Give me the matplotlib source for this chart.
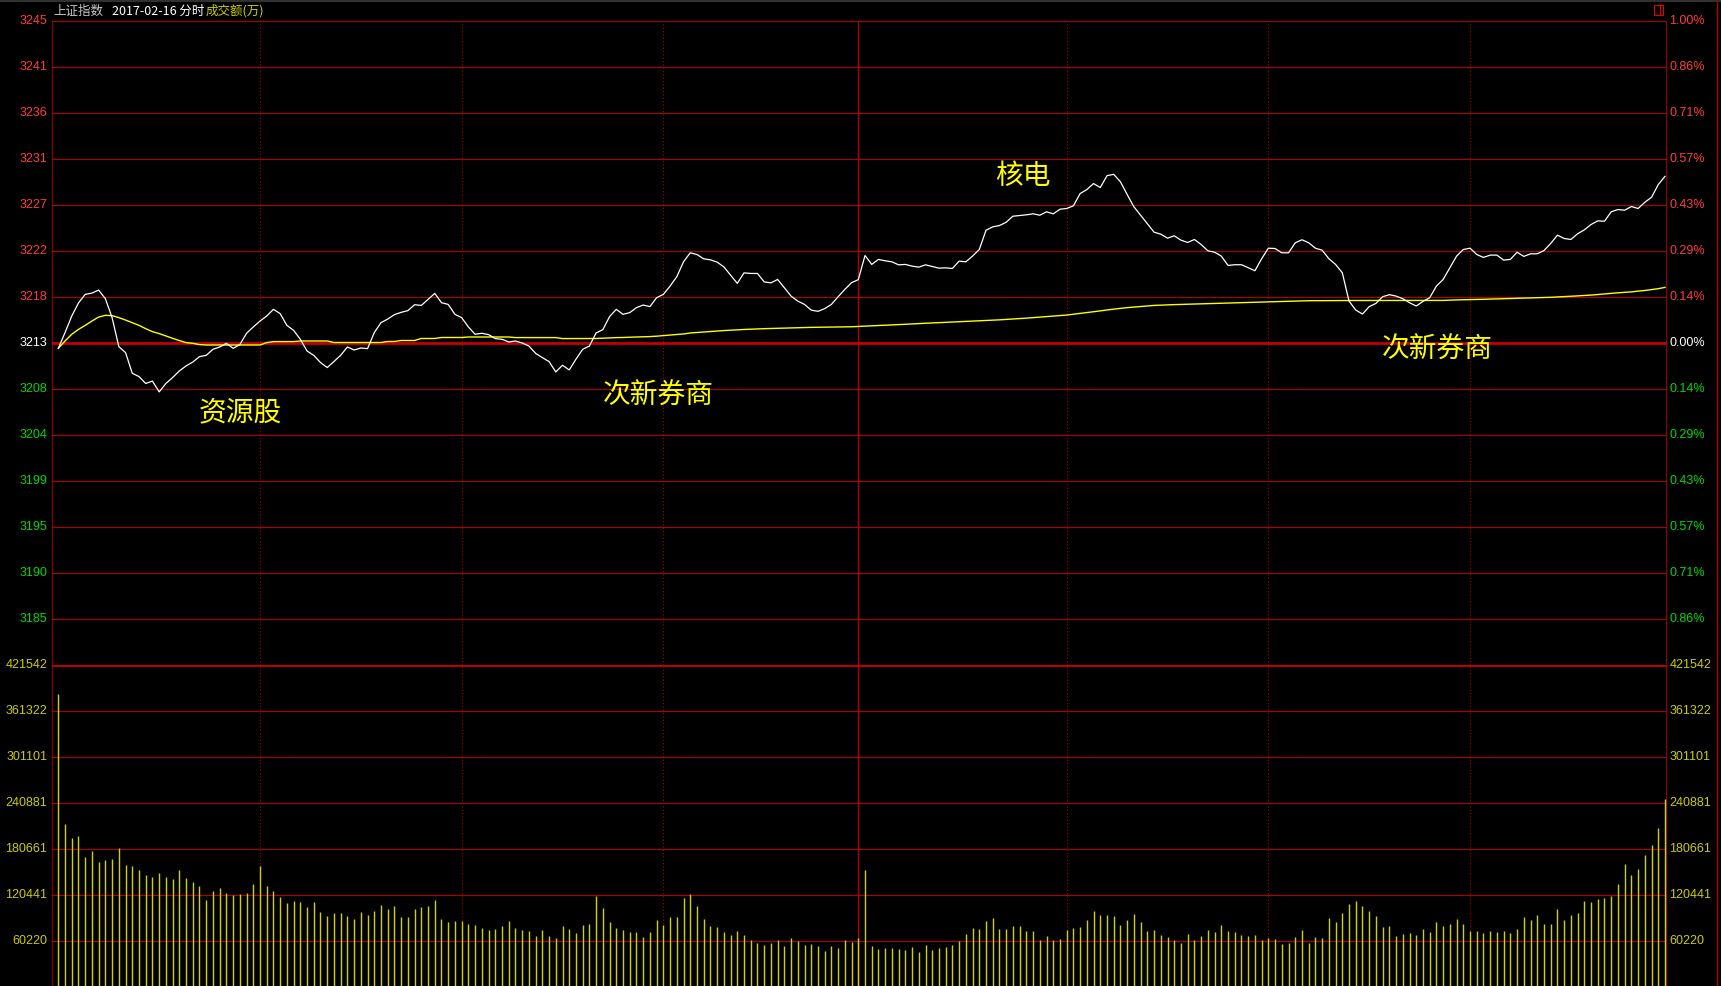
import matplotlib
matplotlib.use('Agg')
import matplotlib.pyplot as plt
from matplotlib.patches import Rectangle
from matplotlib.lines import Line2D

plt.rcParams['font.family'] = ['Noto Sans CJK SC', 'DejaVu Sans']

# ---- data ----
prev_close = 3213.0

price = [
    3212.47, 3214.04, 3215.69, 3217.0, 3217.85, 3217.98, 3218.28, 3217.42, 3215.53, 3212.64,
    3212.04, 3209.98, 3209.65, 3208.96, 3209.2, 3208.12, 3208.96, 3209.55, 3210.21, 3210.71,
    3211.1, 3211.64, 3211.77, 3212.37, 3212.6, 3212.97, 3212.47, 3212.84, 3213.97, 3214.6,
    3215.19, 3215.69, 3216.36, 3215.93, 3214.76, 3214.26, 3213.37, 3212.2, 3211.77, 3211.05,
    3210.55, 3211.15, 3211.77, 3212.6, 3212.3, 3212.5, 3212.44, 3214.04, 3215.03, 3215.39,
    3215.83, 3216.06, 3216.23, 3216.82, 3216.75, 3217.35, 3217.95, 3217.02, 3216.85, 3215.86,
    3215.53, 3214.6, 3213.87, 3213.97, 3213.84, 3213.44, 3213.37, 3213.1, 3213.2, 3213.0,
    3212.7, 3211.97, 3211.54, 3211.15, 3210.11, 3210.78, 3210.31, 3211.38, 3212.37, 3212.7,
    3214.0, 3214.33, 3215.63, 3216.36, 3215.86, 3216.03, 3216.53, 3216.79, 3216.63, 3217.52,
    3217.85, 3218.68, 3219.61, 3221.1, 3222.0, 3221.83, 3221.4, 3221.3, 3221.07, 3220.6,
    3219.77, 3218.95, 3220.0, 3219.94, 3219.94, 3219.1, 3219.0, 3219.34, 3218.52, 3217.68,
    3217.18, 3216.85, 3216.28, 3216.16, 3216.43, 3216.85, 3217.62, 3218.35, 3219.02, 3219.32,
    3221.73, 3220.84, 3221.34, 3221.2, 3221.1, 3220.8, 3220.84, 3220.67, 3220.57, 3220.8,
    3220.64, 3220.47, 3220.5, 3220.44, 3221.17, 3221.1, 3221.67, 3222.33, 3224.25, 3224.59,
    3224.72, 3225.05, 3225.65, 3225.72, 3225.79, 3225.89, 3225.75, 3226.09, 3225.89, 3226.35,
    3226.42, 3226.69, 3227.91, 3228.31, 3228.91, 3228.51, 3229.7, 3229.83, 3229.08, 3227.81,
    3226.59, 3225.75, 3224.92, 3224.06, 3223.86, 3223.46, 3223.7, 3223.26, 3223.03, 3223.33,
    3222.83, 3222.2, 3222.06, 3221.67, 3220.74, 3220.81, 3220.81, 3220.51, 3220.21, 3221.41,
    3222.46, 3222.43, 3222.0, 3222.0, 3223.0, 3223.3, 3223.0, 3222.46, 3222.26, 3221.41,
    3220.84, 3220.01, 3217.18, 3216.29, 3215.89, 3216.63, 3216.95, 3217.62, 3217.82, 3217.68,
    3217.42, 3217.02, 3216.69, 3217.15, 3217.52, 3218.68, 3219.34, 3220.51, 3221.67, 3222.33,
    3222.46, 3221.83, 3221.54, 3221.77, 3221.77, 3221.27, 3221.34, 3222.06, 3221.64, 3221.9,
    3221.9, 3222.23, 3222.93, 3223.76, 3223.43, 3223.33, 3223.9, 3224.29, 3224.82, 3225.19,
    3225.15, 3226.09, 3226.32, 3226.25, 3226.62, 3226.42, 3227.04, 3227.54, 3228.81, 3229.63,
]

avg_price = [
    3212.47, 3213.2, 3213.87, 3214.36, 3214.76, 3215.19, 3215.59, 3215.76, 3215.73, 3215.53,
    3215.29, 3215.03, 3214.76, 3214.43, 3214.13, 3213.94, 3213.7, 3213.47, 3213.24, 3213.04,
    3212.97, 3212.84, 3212.8, 3212.8, 3212.8, 3212.8, 3212.8, 3212.8, 3212.8, 3212.8,
    3212.8, 3213.04, 3213.14, 3213.14, 3213.14, 3213.14, 3213.2, 3213.2, 3213.2, 3213.2,
    3213.2, 3213.05, 3213.05, 3213.05, 3213.05, 3213.05, 3213.05, 3213.05, 3213.05, 3213.15,
    3213.15, 3213.25, 3213.25, 3213.25, 3213.45, 3213.45, 3213.45, 3213.55, 3213.55, 3213.55,
    3213.55, 3213.6, 3213.6, 3213.6, 3213.6, 3213.6, 3213.6, 3213.6, 3213.54, 3213.54,
    3213.54, 3213.54, 3213.54, 3213.54, 3213.54, 3213.44, 3213.44, 3213.44, 3213.44, 3213.44,
    3213.45, 3213.48, 3213.5, 3213.54, 3213.55, 3213.58, 3213.6, 3213.62, 3213.64, 3213.68,
    3213.74, 3213.8, 3213.85, 3213.9, 3214.0, 3214.05, 3214.1, 3214.15, 3214.2, 3214.24,
    3214.28, 3214.33, 3214.35, 3214.38, 3214.4, 3214.43, 3214.45, 3214.47, 3214.49, 3214.51,
    3214.53, 3214.55, 3214.56, 3214.57, 3214.58, 3214.59, 3214.6, 3214.61, 3214.62, 3214.65,
    3214.67, 3214.7, 3214.74, 3214.77, 3214.8, 3214.84, 3214.87, 3214.9, 3214.94, 3214.97,
    3215.0, 3215.03, 3215.05, 3215.08, 3215.11, 3215.15, 3215.18, 3215.21, 3215.24, 3215.28,
    3215.31, 3215.35, 3215.39, 3215.43, 3215.48, 3215.53, 3215.58, 3215.63, 3215.68, 3215.74,
    3215.79, 3215.87, 3215.95, 3216.03, 3216.12, 3216.21, 3216.3, 3216.38, 3216.46, 3216.53,
    3216.58, 3216.64, 3216.7, 3216.75, 3216.78, 3216.8, 3216.83, 3216.85, 3216.87, 3216.9,
    3216.92, 3216.94, 3216.96, 3216.98, 3217.0, 3217.02, 3217.04, 3217.05, 3217.07, 3217.09,
    3217.1, 3217.12, 3217.14, 3217.17, 3217.19, 3217.21, 3217.22, 3217.22, 3217.23, 3217.23,
    3217.23, 3217.24, 3217.24, 3217.24, 3217.24, 3217.25, 3217.25, 3217.25, 3217.25, 3217.25,
    3217.25, 3217.25, 3217.25, 3217.25, 3217.25, 3217.25, 3217.25, 3217.28, 3217.3, 3217.32,
    3217.33, 3217.34, 3217.36, 3217.38, 3217.4, 3217.42, 3217.43, 3217.45, 3217.48, 3217.5,
    3217.52, 3217.54, 3217.56, 3217.6, 3217.63, 3217.66, 3217.7, 3217.74, 3217.78, 3217.84,
    3217.9, 3217.96, 3218.01, 3218.06, 3218.1, 3218.18, 3218.24, 3218.33, 3218.42, 3218.55,
]

# turnover per minute (万)
volume = [
    383900, 213600, 195300, 197900, 170400, 178200, 163800, 166400, 167700, 182100,
    159900, 158600, 153300, 146800, 144100, 149400, 144100, 141500, 153300, 142800,
    137600, 132400, 114000, 125800, 129700, 123200, 120600, 121900, 123200, 135000,
    158600, 132400, 125800, 117900, 110100, 112700, 111400, 104800, 111400, 98300,
    93000, 97000, 97000, 93000, 89100, 98300, 94300, 99600, 107500, 102200,
    106100, 91700, 91700, 102200, 104800, 106100, 114000, 89100, 85200, 86500,
    86500, 82600, 81200, 77300, 74700, 76000, 79900, 86500, 77300, 74700,
    73400, 66800, 74700, 66800, 64200, 79900, 76000, 70800, 81200, 82600,
    119200, 103500, 85200, 77300, 74700, 72100, 72100, 65500, 72100, 87800,
    81200, 91700, 91700, 116600, 121900, 106100, 89100, 79900, 78600, 72100,
    68100, 73400, 68100, 61600, 57700, 55000, 57700, 61600, 53700, 64200,
    60300, 55000, 56300, 53700, 47200, 53700, 51100, 61600, 59000, 64200,
    153300, 53700, 49800, 51100, 51100, 49800, 48500, 52400, 45900, 55000,
    48500, 51100, 52400, 55000, 60300, 69500, 77300, 76000, 86500, 90400,
    76000, 76000, 79900, 79900, 73400, 73400, 61600, 66800, 61600, 62900,
    74700, 77300, 78600, 87800, 99600, 94300, 94300, 93000, 81200, 87800,
    95700, 85200, 73400, 74700, 68100, 65500, 61600, 57700, 69500, 61600,
    66800, 74700, 72100, 81200, 73400, 72100, 68100, 66800, 68100, 61600,
    64200, 62900, 56300, 57700, 65500, 74700, 57700, 65500, 64200, 90400,
    85200, 97000, 108800, 112700, 106100, 99600, 93000, 78600, 79900, 66800,
    69500, 70800, 68100, 76000, 72100, 85200, 79900, 82600, 89100, 82600,
    73400, 73400, 70800, 73400, 72100, 73400, 70800, 76000, 91700, 87800,
    94300, 82600, 82600, 102200, 87800, 94300, 97000, 112700, 111400, 115300,
    116600, 119200, 135000, 161200, 146800, 154600, 173000, 186100, 208400, 246400,
]

left_labels = ['3245', '3241', '3236', '3231', '3227', '3222', '3218', '3213',
               '3208', '3204', '3199', '3195', '3190', '3185']
right_labels = ['1.00%', '0.86%', '0.71%', '0.57%', '0.43%', '0.29%', '0.14%', '0.00%',
                '0.14%', '0.29%', '0.43%', '0.57%', '0.71%', '0.86%']
vol_labels = ['421542', '361322', '301101', '240881', '180661', '120441', '60220']
vol_step = 60220.3

notes = ['资源股', '次新券商', '核电', '次新券商']
note_xy = [(27.0, 3206.1), (89.2, 3207.7), (143.4, 3229.7), (205.1, 3212.3)]

# ---- figure ----
W, H = 1721, 986
fig = plt.figure(figsize=(W / 100, H / 100), dpi=100, facecolor='black')

grid_red = '#b00000'
zero_red = '#c40000'
txt_red = '#ff3c3c'
txt_green = '#00d800'
txt_yel = '#cccc00'
num_font = ['Liberation Sans', 'DejaVu Sans']

left = 52 / W
width = (1667 - 52) / W
ax = fig.add_axes([left, (H - 665) / H, width, 644 / H], facecolor='black')
axv = fig.add_axes([left, (H - 987) / H, width, 322 / H], facecolor='black')

x = list(range(len(price)))
xlim = (-0.94, 239.3)

for a in (ax, axv):
    a.set_xlim(*xlim)
    a.set_xticks([])
    a.set_yticks([])
    for s in a.spines.values():
        s.set_visible(False)
    a.axvline(xlim[0], color=grid_red, lw=1.2)
    a.axvline(xlim[1], color=grid_red, lw=1.2)
    for v in [30, 60, 90, 150, 180, 210]:
        a.axvline(v, color=grid_red, lw=0.8, linestyle=(0, (1, 2)))
    a.axvline(119, color=grid_red, lw=1.0)

# price pane
ax.set_ylim(prev_close * 0.99, prev_close * 1.01)
for k, (ll, rl) in enumerate(zip(left_labels, right_labels)):
    level = prev_close * (1 + (7 - k) * 0.01 / 7)
    if k == 7:
        ax.axhline(level, color=zero_red, lw=2.0)
        c = 'white'
    else:
        ax.axhline(level, color=grid_red, lw=0.8)
        c = txt_red if k < 7 else txt_green
    ax.text(-0.003, level, ll, transform=ax.get_yaxis_transform(), ha='right', va='center',
            color=c, fontsize=9, family=num_font)
    ax.text(1.0015, level, rl, transform=ax.get_yaxis_transform(), ha='left', va='center',
            color=c, fontsize=9, family=num_font)

ax.plot(x, avg_price, color='#ffff00', lw=1.0, zorder=3)
ax.plot(x, price, color='white', lw=0.9, zorder=4)

for s, (nx, ny) in zip(notes, note_xy):
    ax.text(nx, ny, s, color='#ffff00', fontsize=20, ha='center', va='center', zorder=5)

# volume pane
axv.set_ylim(0, vol_step * 7)
axv.axhline(vol_step * 7, color=zero_red, lw=2.0)
for k, lab in enumerate(vol_labels):
    level = vol_step * (7 - k)
    if k > 0:
        axv.axhline(level, color=grid_red, lw=0.8)
    axv.text(-0.003, level, lab, transform=axv.get_yaxis_transform(), ha='right', va='center',
             color=txt_yel, fontsize=9, family=num_font)
    axv.text(1.0015, level, lab, transform=axv.get_yaxis_transform(), ha='left', va='center',
             color=txt_yel, fontsize=9, family=num_font)
axv.vlines(x, 0, volume, color='#d2d200', lw=1.0, zorder=3)

# header + frame bits
fig.text(53 / W, 1 - 11 / H, '上证指数', color='#c8c8c8', fontsize=9, va='center')
fig.text(112 / W, 1 - 11 / H, '2017-02-16 分时', color='white', fontsize=9, va='center')
fig.text(206 / W, 1 - 11 / H, '成交额(万)', color=txt_yel, fontsize=9, va='center')
fig.add_artist(Line2D([1717 / W, 1717 / W], [0, 1], color=grid_red, lw=1.0))
fig.add_artist(Line2D([0, 1], [1 - 0.5 / H, 1 - 0.5 / H], color='#303030', lw=1.5))
fig.add_artist(Rectangle((1654 / W, 1 - 15 / H), 9 / W, 10 / H, fill=False,
                         edgecolor='#e00000', lw=0.8))
fig.add_artist(Line2D([1660 / W, 1660 / W], [1 - 15 / H, 1 - 5 / H], color='#e00000', lw=0.8))

fig.savefig('out.png', dpi=100, facecolor='black')
